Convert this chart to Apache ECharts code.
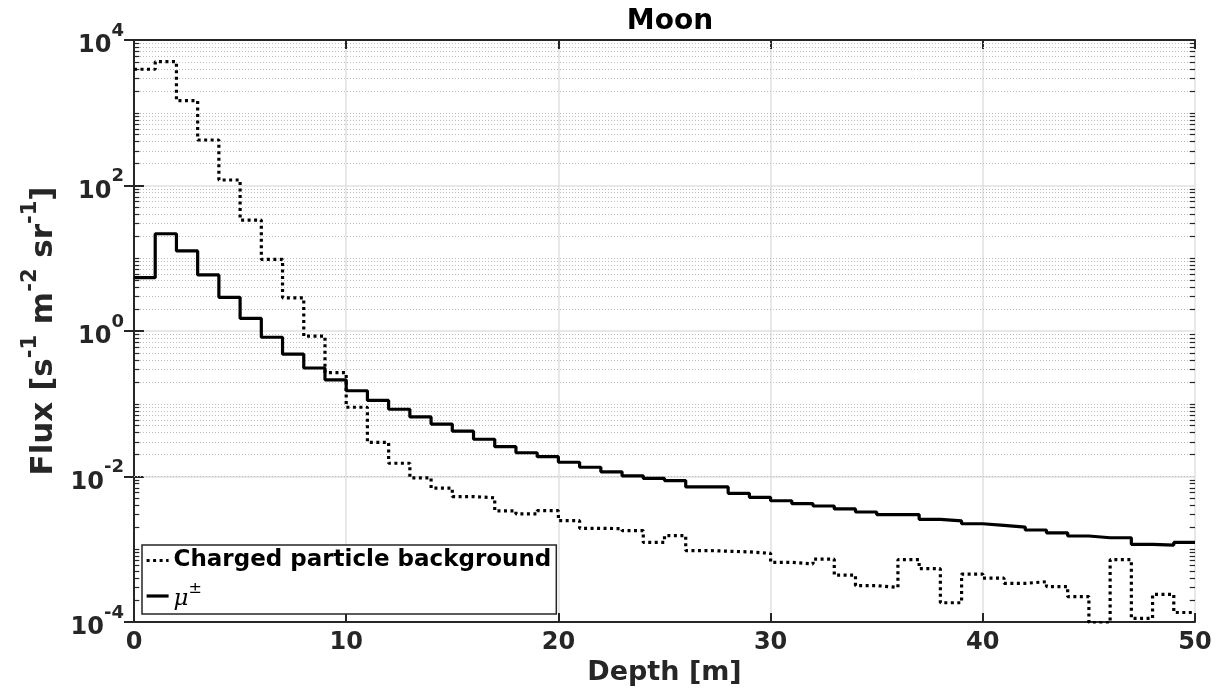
<!DOCTYPE html>
<html>
<head>
<meta charset="utf-8">
<script src="https://cdn.jsdelivr.net/npm/echarts@6/dist/echarts.min.js"></script>
<style>
html,body{margin:0;padding:0;background:#fff;}
#chart{width:1218px;height:694px;}
</style>
</head>
<body>
<div id="chart"></div>
<script>
// ---- data (1 m depth bins, left edges) ----
const depthBinEdges = [0,1,2,3,4,5,6,7,8,9,10,11,12,13,14,15,16,17,18,19,20,21,22,23,24,25,26,27,28,29,30,31,32,33,34,35,36,37,38,39,40,41,42,43,44,45,46,47,48,49];
const depthEnd = 50;

const muonFlux = [5.4,21.7,12.6,5.9,2.9,1.49,0.82,0.48,0.31,0.213,
  0.151,0.111,0.084,0.066,0.0526,0.042,0.0325,0.0257,0.0212,0.0187,
  0.0157,0.0134,0.0116,0.0102,0.0094,0.0088,0.0072,0.0072,0.00587,0.00518,
  0.00464,0.00423,0.00393,0.00358,0.00325,0.0030,0.0030,0.00258,0.00245,0.00224,
  0.00213,0.00202,0.00184,0.00168,0.00152,0.00144,0.00144,0.00117,0.00114,0.00124];

const chargedFlux = [3960,5030,1465,422,119,33.5,9.67,2.86,0.85,0.267,
  0.0895,0.0295,0.0152,0.0096,0.0069,0.0053,0.0051,0.00337,0.00306,0.00339,
  0.00247,0.00194,0.00192,0.0018,0.00124,0.00154,0.00096,0.00094,0.00092,0.00088,
  0.00066,0.00063,0.00073,0.00044,0.000316,0.0003,0.00072,0.00054,0.000184,0.000456,
  0.0004,0.00034,0.000358,0.000307,0.000223,0.000098,0.00072,0.000112,0.00024,0.000135];

const xTickValues = [0,10,20,30,40,50];
const yMin = 1e-4, yMax = 1e4;
const minorMultipliers = [2,3,4,5,6,7,8,9];
const decadeExponents = [-4,-3,-2,-1,0,1,2,3];
const oddDecades = [1e-3,1e-1,1e1,1e3];

const seriesNames = ['Charged particle background', 'μ±'];

// ---- helpers ----
function stepData(vals){
  const d = depthBinEdges.map((x,i)=>[x, vals[i]]);
  d.push([depthEnd, vals[vals.length-1]]);
  return d;
}
const minorValues = [];
decadeExponents.forEach(e=>minorMultipliers.forEach(m=>minorValues.push(m*Math.pow(10,e))));
oddDecades.forEach(v=>minorValues.push(v));

const FONT = 'DejaVu Sans';
const TXT = '#262626';

const minorGridLines = minorValues.map(v=>({yAxis:v}));
const minorTicks = [];
minorValues.forEach(v=>{
  minorTicks.push([{coord:[0,v]},{coord:[0.25,v]}]);
  minorTicks.push([{coord:[depthEnd-0.25,v]},{coord:[depthEnd,v]}]);
});

const chart = echarts.init(document.getElementById('chart'), null, {renderer:'canvas'});
const option = {
  backgroundColor:'#fff',
  animation:false,
  title:{
    text:'Moon', left:665, top:3, textAlign:'center',
    textStyle:{fontFamily:FONT, fontWeight:'bold', fontSize:28, color:'#000'}
  },
  grid:{left:134, right:23, top:40, bottom:72, containLabel:false},
  legend:{
    data:seriesNames,
    orient:'vertical', left:142, top:545,
    backgroundColor:'#fff', borderColor:TXT, borderWidth:1.5,
    padding:[4,5,3,3], itemGap:9, itemWidth:22, itemHeight:16, itemTextGap:2,
    itemStyle:{opacity:0, borderWidth:0},
    lineStyle:{width:3.2},
    textStyle:{fontFamily:FONT, fontWeight:'bold', fontSize:23, color:'#000',
      rich:{
        mu:{fontFamily:'DejaVu Serif', fontStyle:'italic', fontWeight:'normal', fontSize:23, color:'#000', lineHeight:30, verticalAlign:'bottom'},
        pm:{fontFamily:'DejaVu Sans', fontWeight:'normal', fontSize:16, color:'#000', lineHeight:16, verticalAlign:'top'}
      }},
    formatter:function(name){
      if(name==='μ±') return '{mu|μ}{pm|±}';
      return name;
    }
  },
  xAxis:[{
    type:'value', min:0, max:depthEnd, interval:10, position:'bottom',
    axisLine:{show:true, onZero:false, lineStyle:{color:TXT, width:2}},
    axisTick:{show:true, inside:true, length:9, lineStyle:{color:TXT, width:2}},
    axisLabel:{fontFamily:FONT, fontWeight:'bold', fontSize:24, color:TXT, margin:9},
    splitLine:{show:true, lineStyle:{color:'#e0e0e0', width:1.5}},
    name:'Depth [m]', nameLocation:'middle', nameGap:37,
    nameTextStyle:{fontFamily:FONT, fontWeight:'bold', fontSize:27, color:TXT}
  },{
    type:'value', min:0, max:depthEnd, interval:10, position:'top',
    axisLine:{show:true, onZero:false, lineStyle:{color:TXT, width:2}},
    axisTick:{show:true, inside:true, length:9, lineStyle:{color:TXT, width:2}},
    axisLabel:{show:false}, splitLine:{show:false}
  }],
  yAxis:[{
    type:'log', logBase:10, min:yMin, max:yMax, interval:2, position:'left',
    axisLine:{show:true, lineStyle:{color:TXT, width:2}},
    axisTick:{show:true, inside:true, length:10, lineStyle:{color:TXT, width:2}},
    axisLabel:{
      margin:10,
      formatter:function(v){ const e=Math.round(Math.log10(v)); return '{b|10}{s|'+e+'}'; },
      rich:{
        b:{fontFamily:FONT, fontWeight:'bold', fontSize:24, color:TXT, lineHeight:36, verticalAlign:'bottom'},
        s:{fontFamily:FONT, fontWeight:'bold', fontSize:18, color:TXT, lineHeight:18, verticalAlign:'top'}
      }
    },
    splitLine:{show:true, lineStyle:{color:'#e0e0e0', width:1.5}},
    name:'{b|Flux [s}{s|-1}{b| m}{s|-2}{b| sr}{s|-1}{b|]}',
    nameLocation:'middle', nameRotate:90, nameGap:70,
    nameTextStyle:{
      rich:{
        b:{fontFamily:FONT, fontWeight:'bold', fontSize:31, color:TXT, lineHeight:40, verticalAlign:'bottom'},
        s:{fontFamily:FONT, fontWeight:'bold', fontSize:21, color:TXT, lineHeight:21, verticalAlign:'top'}
      }
    }
  },{
    type:'log', logBase:10, min:yMin, max:yMax, interval:2, position:'right',
    axisLine:{show:true, lineStyle:{color:TXT, width:2}},
    axisTick:{show:true, inside:true, length:10, lineStyle:{color:TXT, width:2}},
    axisLabel:{show:false}, splitLine:{show:false}
  }],
  series:[
    {
      name:'minorGrid', type:'line', data:stepData(muonFlux), symbol:'none', silent:true,
      lineStyle:{opacity:0}, z:1,
      markLine:{silent:true, symbol:'none', label:{show:false}, animation:false,
        lineStyle:{color:'#bdbdbd', width:1, type:[1,2]}, data:minorGridLines}
    },
    {
      name:'minorTicks', type:'line', data:[], symbol:'none', silent:true, z:3,
      markLine:{silent:true, symbol:'none', label:{show:false}, animation:false,
        lineStyle:{color:TXT, width:1.2, type:'solid'}, data:minorTicks}
    },
    {
      name:seriesNames[0], type:'line', step:'end', symbol:'none', data:stepData(chargedFlux),
      lineStyle:{color:'#000', width:3.2, type:[3,3.5]}, itemStyle:{color:'#000'}, z:5
    },
    {
      name:seriesNames[1], type:'line', step:'end', symbol:'none', data:stepData(muonFlux),
      lineStyle:{color:'#000', width:3.2, type:'solid'}, itemStyle:{color:'#000'}, z:6
    }
  ]
};
chart.setOption(option);
</script>
</body>
</html>
